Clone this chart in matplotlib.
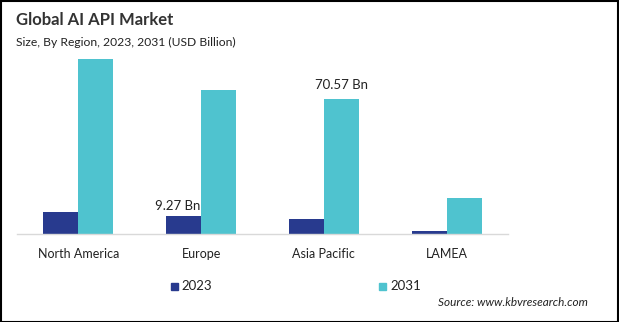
import matplotlib.pyplot as plt
import numpy as np

regions = ["North America", "Europe", "Asia Pacific", "LAMEA"]
v2023 = [11.6, 9.27, 7.9, 1.6]
v2031 = [91.4, 75.3, 70.57, 18.8]
years = ["2023", "2031"]
c2023 = "#283a8e"
c2031 = "#4fc3cf"

plt.rcParams['font.family'] = ['Lato', 'DejaVu Sans']

W, H = 619, 322
fig = plt.figure(figsize=(W / 100, H / 100), dpi=100)

# axes placed in pixel terms: x 17..508, baseline at y=234
top_px = 43
ax = fig.add_axes([17 / W, (H - 234) / H, (508 - 17) / W, (234 - top_px) / H])

x = np.arange(len(regions))
bw = 0.285
ax.bar(x - bw / 2, v2023, bw, color=c2023, label=years[0])
ax.bar(x + bw / 2, v2031, bw, color=c2031, label=years[1])
ax.set_xlim(-0.5, 3.5)
ax.set_ylim(0, 191 * 70.57 / 135)

for s in ["top", "right", "left"]:
    ax.spines[s].set_visible(False)
ax.spines["bottom"].set_color("#d9d9d9")
ax.spines["bottom"].set_linewidth(1)
ax.set_yticks([])
ax.set_xticks(x)
ax.set_xticklabels(regions, fontsize=9, color="#222222")
ax.tick_params(axis="x", length=0, pad=10)

ax.text(x[1] - bw / 2 - 0.05, v2023[1] + 2, f"{v2023[1]:.2f} Bn", ha="center", va="bottom",
        fontsize=9.5, color="#222222")
ax.text(x[2] + bw / 2, v2031[2] + 4, f"{v2031[2]:.2f} Bn", ha="center", va="bottom",
        fontsize=9.5, color="#222222")

fig.text(16 / W, 1 - 20 / H, "Global AI API Market", fontsize=12, fontweight="bold",
         color="#333333", va="center")
fig.text(16 / W, 1 - 42 / H, "Size, By Region, 2023, 2031 (USD Billion)", fontsize=8.7,
         color="#222222", va="center")

# legend
fig.patches.append(plt.Rectangle((171 / W, 1 - 290 / H), 7 / W, 7 / H, color=c2023,
                                 transform=fig.transFigure, figure=fig))
fig.text(181 / W, 1 - 286 / H, years[0], fontsize=9.5, color="#222222", va="center")
fig.patches.append(plt.Rectangle((379 / W, 1 - 290 / H), 7 / W, 7 / H, color=c2031,
                                 transform=fig.transFigure, figure=fig))
fig.text(390 / W, 1 - 286 / H, years[1], fontsize=9.5, color="#222222", va="center")

fig.text(588 / W, 1 - 303 / H, "Source: www.kbvresearch.com", fontsize=8.5, style="italic",
         color="#222222", ha="right", va="center")

# outer frame
fig.patches.append(plt.Rectangle((0.5 / W, 0.5 / H), 1 - 1.5 / W, 1 - 1.5 / H, fill=False,
                                 edgecolor="black", linewidth=1.5,
                                 transform=fig.transFigure, figure=fig))

fig.savefig("out.png", dpi=100)
